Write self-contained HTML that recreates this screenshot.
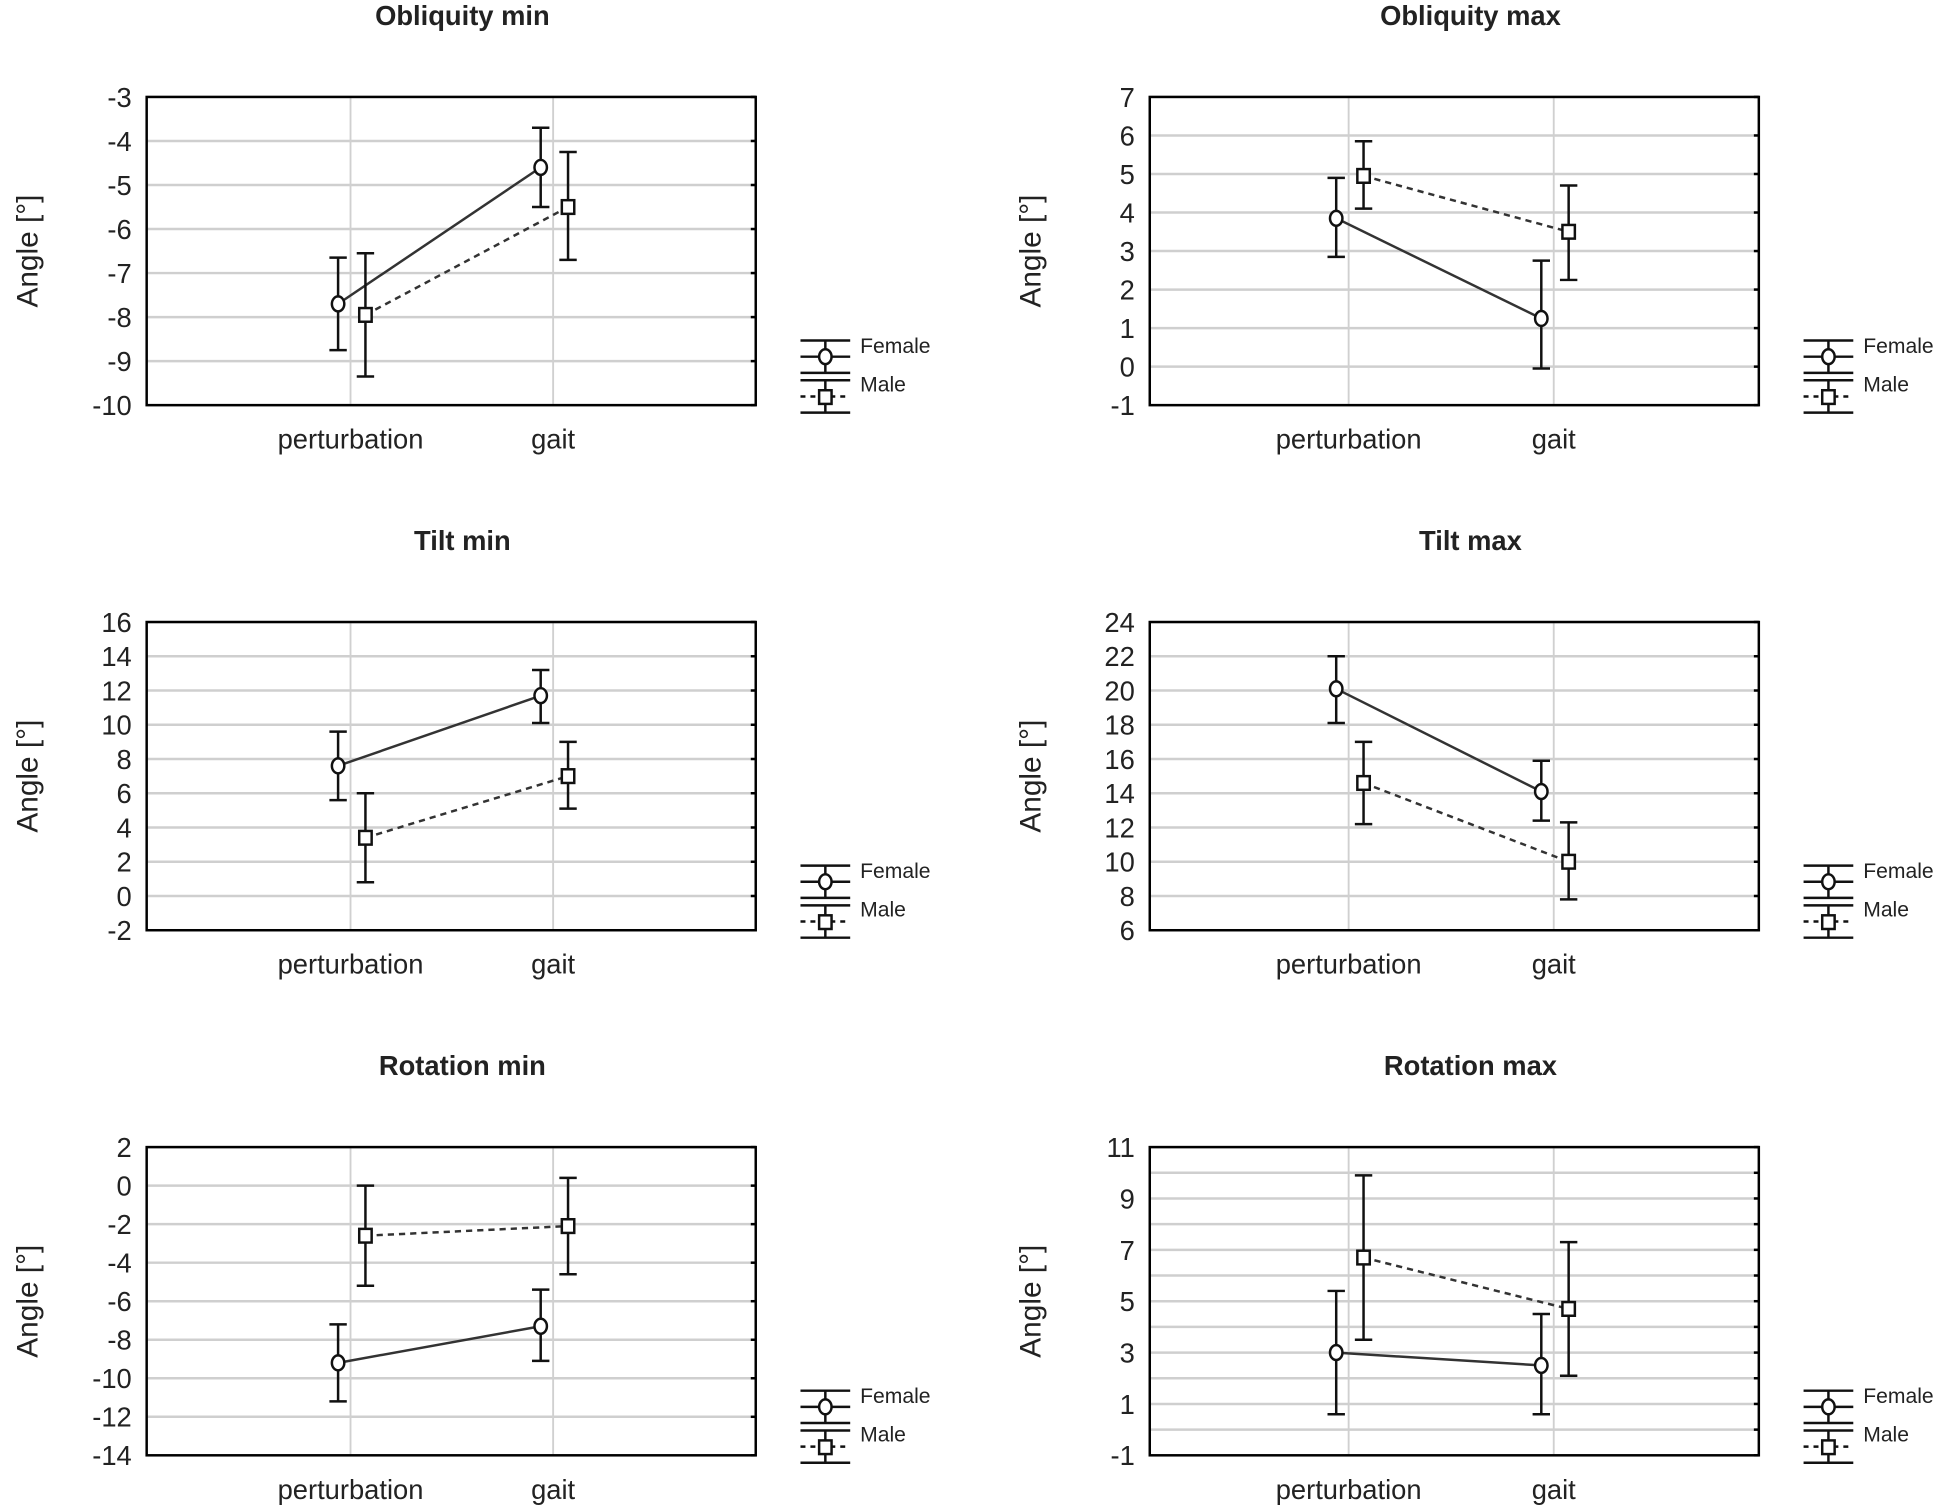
<!DOCTYPE html>
<html><head><meta charset="utf-8"><style>
html,body{margin:0;padding:0;background:#fff}
svg{display:block}
text{font-family:"Liberation Sans",Arial,sans-serif;fill:#222}
</style></head><body>
<svg id="fig" width="1949" height="1510" viewBox="0 0 1568 1215" preserveAspectRatio="none" xmlns="http://www.w3.org/2000/svg"></svg>
<script>
const categories = ["perturbation","gait"];
const titles = ["Obliquity min","Obliquity max","Tilt min","Tilt max","Rotation min","Rotation max"];
const femaleMean = [[-7.7,-4.6],[3.85,1.25],[7.6,11.7],[20.1,14.1],[-9.2,-7.3],[3.0,2.5]];
const femaleLow  = [[-8.75,-5.5],[2.85,-0.05],[5.6,10.1],[18.1,12.4],[-11.2,-9.1],[0.6,0.6]];
const femaleHigh = [[-6.65,-3.7],[4.9,2.75],[9.6,13.2],[22.0,15.9],[-7.2,-5.4],[5.4,4.5]];
const maleMean = [[-7.95,-5.5],[4.95,3.5],[3.4,7.0],[14.6,10.0],[-2.6,-2.1],[6.7,4.7]];
const maleLow  = [[-9.35,-6.7],[4.1,2.25],[0.8,5.1],[12.2,7.8],[-5.2,-4.6],[3.5,2.1]];
const maleHigh = [[-6.55,-4.25],[5.85,4.7],[6.0,9.0],[17.0,12.3],[0.0,0.4],[9.9,7.3]];
const yMin = [-10,-1,-2,6,-14,-1];
const yMax = [-3,7,16,24,2,11];
const yTickStep = [1,1,2,2,2,2];
const yGridStep = [1,1,2,2,2,1];

const NS="http://www.w3.org/2000/svg";
const svg=document.getElementById('fig');
function el(tag,attrs,parent,txt){const e=document.createElementNS(NS,tag);for(const k in attrs)e.setAttribute(k,attrs[k]);if(txt!==undefined)e.textContent=txt;(parent||svg).appendChild(e);return e;}

for(let p=0;p<6;p++){
  const col=p%2,row=Math.floor(p/2);
  const L=col?925:118, R=L+490, T=78+row*422.5, B=T+248;
  const g=el('g',{});
  
  
  const yS=v=>B-(v-yMin[p])/(yMax[p]-yMin[p])*(B-T);
  const catX=col?[1085,1250]:[282,445];
  const t=el('text',{x:col?L+258:L+254,y:T-58,'text-anchor':'middle','font-size':22,'font-weight':'bold'},g,titles[p]);
  
  
  for(let v=yMin[p];v<=yMax[p]+1e-9;v+=yGridStep[p]){
    const gl=el('line',{x1:L,x2:R,y1:yS(v),y2:yS(v),stroke:'#cfcfcf','stroke-width':2},g);
    
    
    el('line',{x1:R-4,x2:R,y1:yS(v),y2:yS(v),stroke:'#000','stroke-width':2},g);
  }
  for(let v=yMin[p];v<=yMax[p]+1e-9;v+=yTickStep[p]){
    const tl=el('text',{x:L-12,y:yS(v)+8,'text-anchor':'end','font-size':22},g,String(v));
    
    
  }
  catX.forEach((x,i)=>{
    const vl=el('line',{x1:x,x2:x,y1:T,y2:B,stroke:'#d0d0d0','stroke-width':1.5},g);
    
    
    const cl=el('text',{x:x,y:B+35,'text-anchor':'middle','font-size':22},g,categories[i]);
    
    
  });
  const fr=el('rect',{x:L,y:T,width:R-L,height:B-T,fill:'none',stroke:'#000','stroke-width':2},g);
  
  
  const yl=el('text',{x:0,y:0,'text-anchor':'middle','font-size':24,transform:`translate(${L-88},${(T+B)/2}) rotate(-90)`},g,'Angle [°]');
  
  
  const series=[[femaleMean,femaleLow,femaleHigh,-10,'none','circle'],[maleMean,maleLow,maleHigh,12,'5,4','square']];
  series.forEach(([m,lo,hi,off,dash,shape],si)=>{
    const xs=catX.map(x=>x+off);
    const ln=el('line',{x1:xs[0],y1:yS(m[p][0]),x2:xs[1],y2:yS(m[p][1]),stroke:'#333','stroke-width':2,'stroke-dasharray':dash},g);
    
    
    for(let i=0;i<2;i++){
      const x=xs[i],y1=yS(lo[p][i]),y2=yS(hi[p][i]),y=yS(m[p][i]);
      const eb=el('path',{d:`M${x},${y1}V${y2}M${x-7},${y1}H${x+7}M${x-7},${y2}H${x+7}`,stroke:'#111','stroke-width':2,fill:'none'},g);
      
      
      let mk;
      if(shape==='circle') mk=el('ellipse',{cx:x,cy:y,rx:5,ry:6,fill:'#fff',stroke:'#111','stroke-width':2},g);
      else mk=el('rect',{x:x-5,y:y-5.5,width:10,height:11,fill:'#fff',stroke:'#111','stroke-width':2},g);
      
      
    }
  });
  const lx=L+546, ly=B-50;
  const lg=el('g',{},g);
  
  
  el('path',{d:`M${lx-20},${ly-2}H${lx+20}M${lx-20},${ly+24}H${lx+20}M${lx},${ly-2}V${ly+24}M${lx-20},${ly+11}H${lx+20}`,stroke:'#111','stroke-width':2,fill:'none'},lg);
  el('ellipse',{cx:lx,cy:ly+11,rx:5,ry:6,fill:'#fff',stroke:'#111','stroke-width':2},lg);
  el('text',{x:lx+28,y:ly+8,'font-size':17},lg,'Female');
  const m2=ly+30;
  el('path',{d:`M${lx-20},${m2}H${lx+20}M${lx-20},${m2+26}H${lx+20}M${lx},${m2}V${m2+26}`,stroke:'#111','stroke-width':2,fill:'none'},lg);
  el('line',{x1:lx-20,x2:lx+20,y1:m2+13,y2:m2+13,stroke:'#111','stroke-width':2,'stroke-dasharray':'4,4'},lg);
  el('rect',{x:lx-5,y:m2+8,width:10,height:11,fill:'#fff',stroke:'#111','stroke-width':2},lg);
  el('text',{x:lx+28,y:m2+9,'font-size':17},lg,'Male');
}
</script>
</body></html>
